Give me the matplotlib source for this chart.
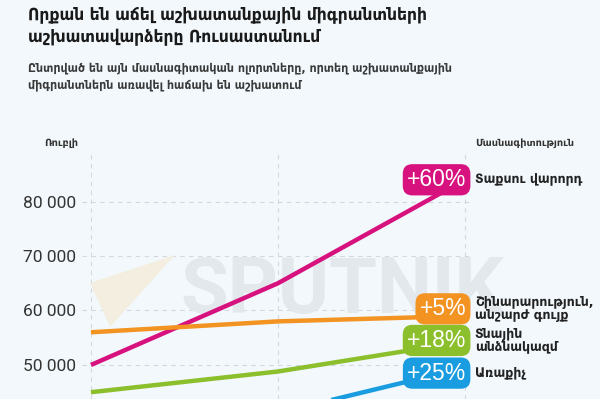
import matplotlib.pyplot as plt
from matplotlib.patches import Polygon
from matplotlib.ticker import FuncFormatter

# տվյալներ (ռուբլի), երեք ժամանակային կետ
periods = [0, 1, 2]
taxi = [50000, 65000, 84000]
construction = [56000, 58000, 59000]
domestic = [45000, 48800, 54300]
courier = [39600, 41200, 49500]

series_names = ['Տաքսու վարորդ', 'Շինարարություն,\nանշարժ գույք', 'Տնային\nանձնակազմ', 'Առաքիչ']
growth_labels = ['+60%', '+5%', '+18%', '+25%']
colors = ['#d7127e', '#f39321', '#8cbf2c', '#1a9de0']
yticks = [50000, 60000, 70000, 80000]

bg = '#f2f8fc'
fonts = ['DejaVu Sans']
num_fonts = ['Roboto', 'DejaVu Sans']

fig = plt.figure(figsize=(6, 3.99), dpi=100, facecolor=bg)
ax = fig.add_axes([82 / 600, 0, 388 / 600, 247 / 399])
ax.set_facecolor(bg)

# ջրանիշ (թույլ գույներով)
tri = Polygon([(90 / 600, 1 - 283 / 399), (175 / 600, 1 - 255 / 399), (110 / 600, 1 - 327 / 399)],
              closed=True, transform=fig.transFigure, fc='#f3eee0', ec='none', zorder=1)
ax.add_patch(tri)
ax.text(0.57, 1 - 292 / 399, 'SPUTNIK', transform=fig.transFigure, fontsize=56,
        fontweight='bold', color='#e3e8ed', ha='center', va='center',
        family=num_fonts, zorder=1)

values = [taxi, construction, domestic, courier]
for vals, c in zip(values, colors):
    ax.plot(periods, vals, color=c, lw=3.2, solid_capstyle='butt', zorder=3)

ax.set_xlim(-0.048, 2.027)
ax.set_ylim(43750, 89100)
ax.set_yticks(yticks)
ax.yaxis.set_major_formatter(FuncFormatter(lambda v, p: f'{int(v):,}'.replace(',', ' ')))
ax.set_xticks(periods)
ax.tick_params(axis='x', length=0, labelbottom=False)
ax.tick_params(axis='y', length=0, pad=4, labelsize=12.5, labelcolor='#333333')
for t in ax.get_yticklabels():
    t.set_family(num_fonts)
ax.grid(True, color='#d3d8dd', ls=(0, (4, 4)), lw=0.8, zorder=2)
ax.set_axisbelow(True)
for s in ax.spines.values():
    s.set_visible(False)

# պիտակների տեղաշարժ, որ չհամընկնեն
label_shift = [0, 1300, 200, -1000]
for vals, c, g, name, dy in zip(values, colors, growth_labels, series_names, label_shift):
    y = vals[-1] + dy
    ax.text(2.007, y, g, ha='right', va='center', fontsize=16.5, color='white', zorder=5,
            family=['Liberation Sans', 'DejaVu Sans'],
            bbox=dict(boxstyle='round,pad=0.18,rounding_size=0.42', fc=c, ec='none'))
    ax.text(2.053, y, name, ha='left', va='center', fontsize=9, fontweight='bold',
            color='#222222', family=fonts, linespacing=0.95, clip_on=False, zorder=5)

fig.text(78 / 600, 1 - 143 / 399, 'Ռուբլի', ha='right', va='center', fontsize=7,
         fontweight='bold', color='#333333', family=fonts)
fig.text(475 / 600, 1 - 143 / 399, 'Մասնագիտություն', ha='left', va='center', fontsize=7,
         fontweight='bold', color='#333333', family=fonts)

fig.text(28 / 600, 1 - 6 / 399, 'Որքան են աճել աշխատանքային միգրանտների\nաշխատավարձերը Ռուսաստանում',
         ha='left', va='top', fontsize=12.5, fontweight='bold', color='#1a1a1a',
         family=fonts, fontstretch='condensed', linespacing=1.3)
fig.text(28 / 600, 1 - 61 / 399, 'Ընտրված են այն մասնագիտական ոլորտները, որտեղ աշխատանքային\n'
         'միգրանտներն առավել հաճախ են աշխատում',
         ha='left', va='top', fontsize=8.8, fontweight='bold', color='#3a3a3a',
         family=fonts, fontstretch='condensed', linespacing=1.4)

fig.savefig('out.png', dpi=100, facecolor=bg)
